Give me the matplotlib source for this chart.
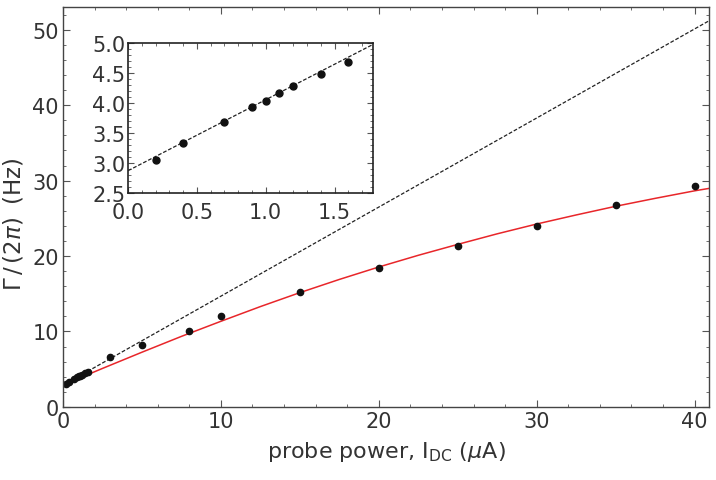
import matplotlib
matplotlib.use("Agg")
import matplotlib.pyplot as plt
from matplotlib.ticker import MultipleLocator

# measured linewidths (Hz) vs probe current (uA)
idc = [0.2, 0.4, 0.7, 0.9, 1.0, 1.1, 1.2, 1.4, 1.6,
       3, 5, 8, 10, 15, 20, 25, 30, 35, 40]
gamma = [3.05, 3.33, 3.68, 3.93, 4.03, 4.16, 4.28, 4.48, 4.68,
         6.6, 8.2, 10.1, 12.05, 15.2, 18.4, 21.3, 24.0, 26.75, 29.3]

# linear low-power fit (dashed), read at the two ends
lin_x = [0, 41]
lin_y = [2.87, 51.3]

# red fit curve
fit_x = [0, 2.5, 5, 7.5, 10, 12.5, 15, 17.5, 20, 22.5, 25, 27.5, 30, 32.5, 35, 37.5, 40, 41]
fit_y = [2.9, 5.1, 7.25, 9.35, 11.35, 13.3, 15.15, 16.9, 18.55, 20.1, 21.55, 22.95,
         24.25, 25.45, 26.6, 27.65, 28.65, 29.0]

txt = "#333333"
plt.rcParams["font.family"] = ["DejaVu Sans"]
plt.rcParams["mathtext.fontset"] = "dejavusans"

fig = plt.figure(figsize=(7.16, 4.81), dpi=100)
ax = fig.add_axes([0.088, 0.152, 0.902, 0.831])

ax.plot(lin_x, lin_y, ls=(0, (3, 1.5)), color="#222222", lw=0.9)
ax.plot(fit_x, fit_y, color="#e8262a", lw=1.1)
ax.plot(idc, gamma, "o", color="#111111", ms=4.5)

ax.set_xlim(0, 40.9)
ax.set_ylim(0, 53.0)
ax.xaxis.set_major_locator(MultipleLocator(10))
ax.xaxis.set_minor_locator(MultipleLocator(2))
ax.yaxis.set_major_locator(MultipleLocator(10))
ax.yaxis.set_minor_locator(MultipleLocator(2))
ax.tick_params(which="both", direction="in", top=True, right=True, colors="#555555",
               labelcolor=txt, labelsize=15, pad=3)
ax.tick_params(which="major", length=5)
ax.tick_params(which="minor", length=2.5)
for s in ax.spines.values():
    s.set_color("#444444")
    s.set_linewidth(1.0)
ax.set_xlabel(r"probe power, I$_{\rm DC}$ ($\mu$A)", fontsize=16, color=txt, labelpad=6)
ax.set_ylabel(r"$\Gamma\,/\,(2\pi)\;\;(\mathrm{Hz})$", fontsize=16.5, color=txt)
ax.yaxis.set_label_coords(-0.058, 0.46)

ins = fig.add_axes([0.179, 0.597, 0.342, 0.312])
ins.plot(lin_x, lin_y, ls=(0, (3, 1.5)), color="#222222", lw=0.9)
ins.plot(idc[:9], gamma[:9], "o", color="#111111", ms=5)
ins.set_xlim(0, 1.78)
ins.set_ylim(2.5, 5.0)
ins.xaxis.set_major_locator(MultipleLocator(0.5))
ins.xaxis.set_minor_locator(MultipleLocator(0.1))
ins.yaxis.set_major_locator(MultipleLocator(0.5))
ins.yaxis.set_minor_locator(MultipleLocator(0.1))
ins.tick_params(which="both", direction="in", top=True, right=True, colors="#555555",
                labelcolor=txt, labelsize=15, pad=2)
ins.tick_params(axis="x", pad=6.5)
ins.tick_params(which="major", length=4)
ins.tick_params(which="minor", length=2)
for s in ins.spines.values():
    s.set_color("#222222")
    s.set_linewidth(1.2)

fig.savefig("out.png", dpi=100)
